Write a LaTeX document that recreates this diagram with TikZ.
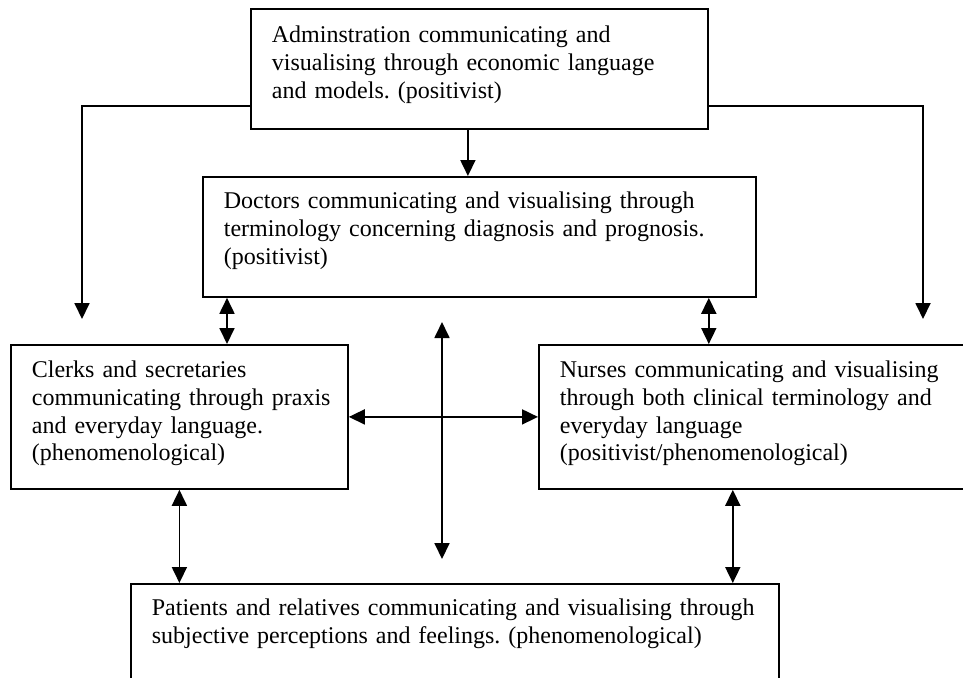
\documentclass[tikz,border=0pt]{standalone}
\usepackage{fontspec}
\setmainfont{Liberation Serif}
\usetikzlibrary{arrows.meta}

\tikzset{
  panel/.style={draw, line width=0.9pt, anchor=north west, align=left,
    inner xsep=10.5pt, inner ysep=0pt, font=\fontsize{12pt}{13.8pt}\selectfont\frenchspacing},
}

\begin{document}
\begin{tikzpicture}[x=0.5pt,y=-0.5pt,line width=0.9pt,>={Triangle[length=8pt,width=7.5pt]}]
    \useasboundingbox (0,0) rectangle (963,677);
    \node [panel, text width=207.5pt, text height=17pt, text depth=43pt] (admin) at (250,8)
        {Adminstration communicating and\\ visualising through economic language\\ and models. (positivist)};
    \node [panel, text width=255.5pt, text height=16pt, text depth=44pt] (doctors) at (202,176)
        {Doctors communicating and visualising through\\ terminology concerning diagnosis and prognosis.\\ (positivist)};
    \node [panel, text width=147.5pt, text height=16.5pt, text depth=55.5pt] (clerks) at (10,344)
        {Clerks and secretaries\\ communicating~through~praxis\\ and everyday language.\\ (phenomenological)};
    \node [panel, text width=197.5pt, text height=16.5pt, text depth=55.5pt] (nurses) at (538,344)
        {Nurses communicating and visualising\\ through both clinical terminology and\\ everyday language\\ (positivist/phenomenological)};
    \node [panel, text width=303pt, text height=16pt, text depth=42.5pt] (patients) at (130,583)
        {Patients and relatives communicating and visualising through\\ subjective perceptions and feelings. (phenomenological)};
    \coordinate (left_end) at (82,319);
    \coordinate (right_end) at (923,319);
    \coordinate (cross_top) at (442,322);
    \coordinate (cross_bot) at (442,559);
    % from the administration
    \draw[->] ([xshift=-5.75pt]admin.south) -- ([xshift=-5.75pt]admin.south |- doctors.north);
    \draw[->] ([yshift=12pt]admin.south west) -| (left_end);
    \draw[->] ([yshift=12pt]admin.south east) -| (right_end);
    % between the groups
    \draw[<->] ([xshift=12.5pt]doctors.south west) -- ([xshift=12.5pt]doctors.south west |- clerks.north);
    \draw[<->] ([xshift=-24pt]doctors.south east) -- ([xshift=-24pt]doctors.south east |- nurses.north);
    \draw[<->] (clerks.east) -- (nurses.west);
    \draw[<->] (cross_top) -- (cross_bot);
    \draw[<->] (clerks.south) -- (clerks.south |- patients.north);
    \draw[<->] ([xshift=-23.5pt]patients.north east |- nurses.south) -- ([xshift=-23.5pt]patients.north east);
\end{tikzpicture}
\end{document}
